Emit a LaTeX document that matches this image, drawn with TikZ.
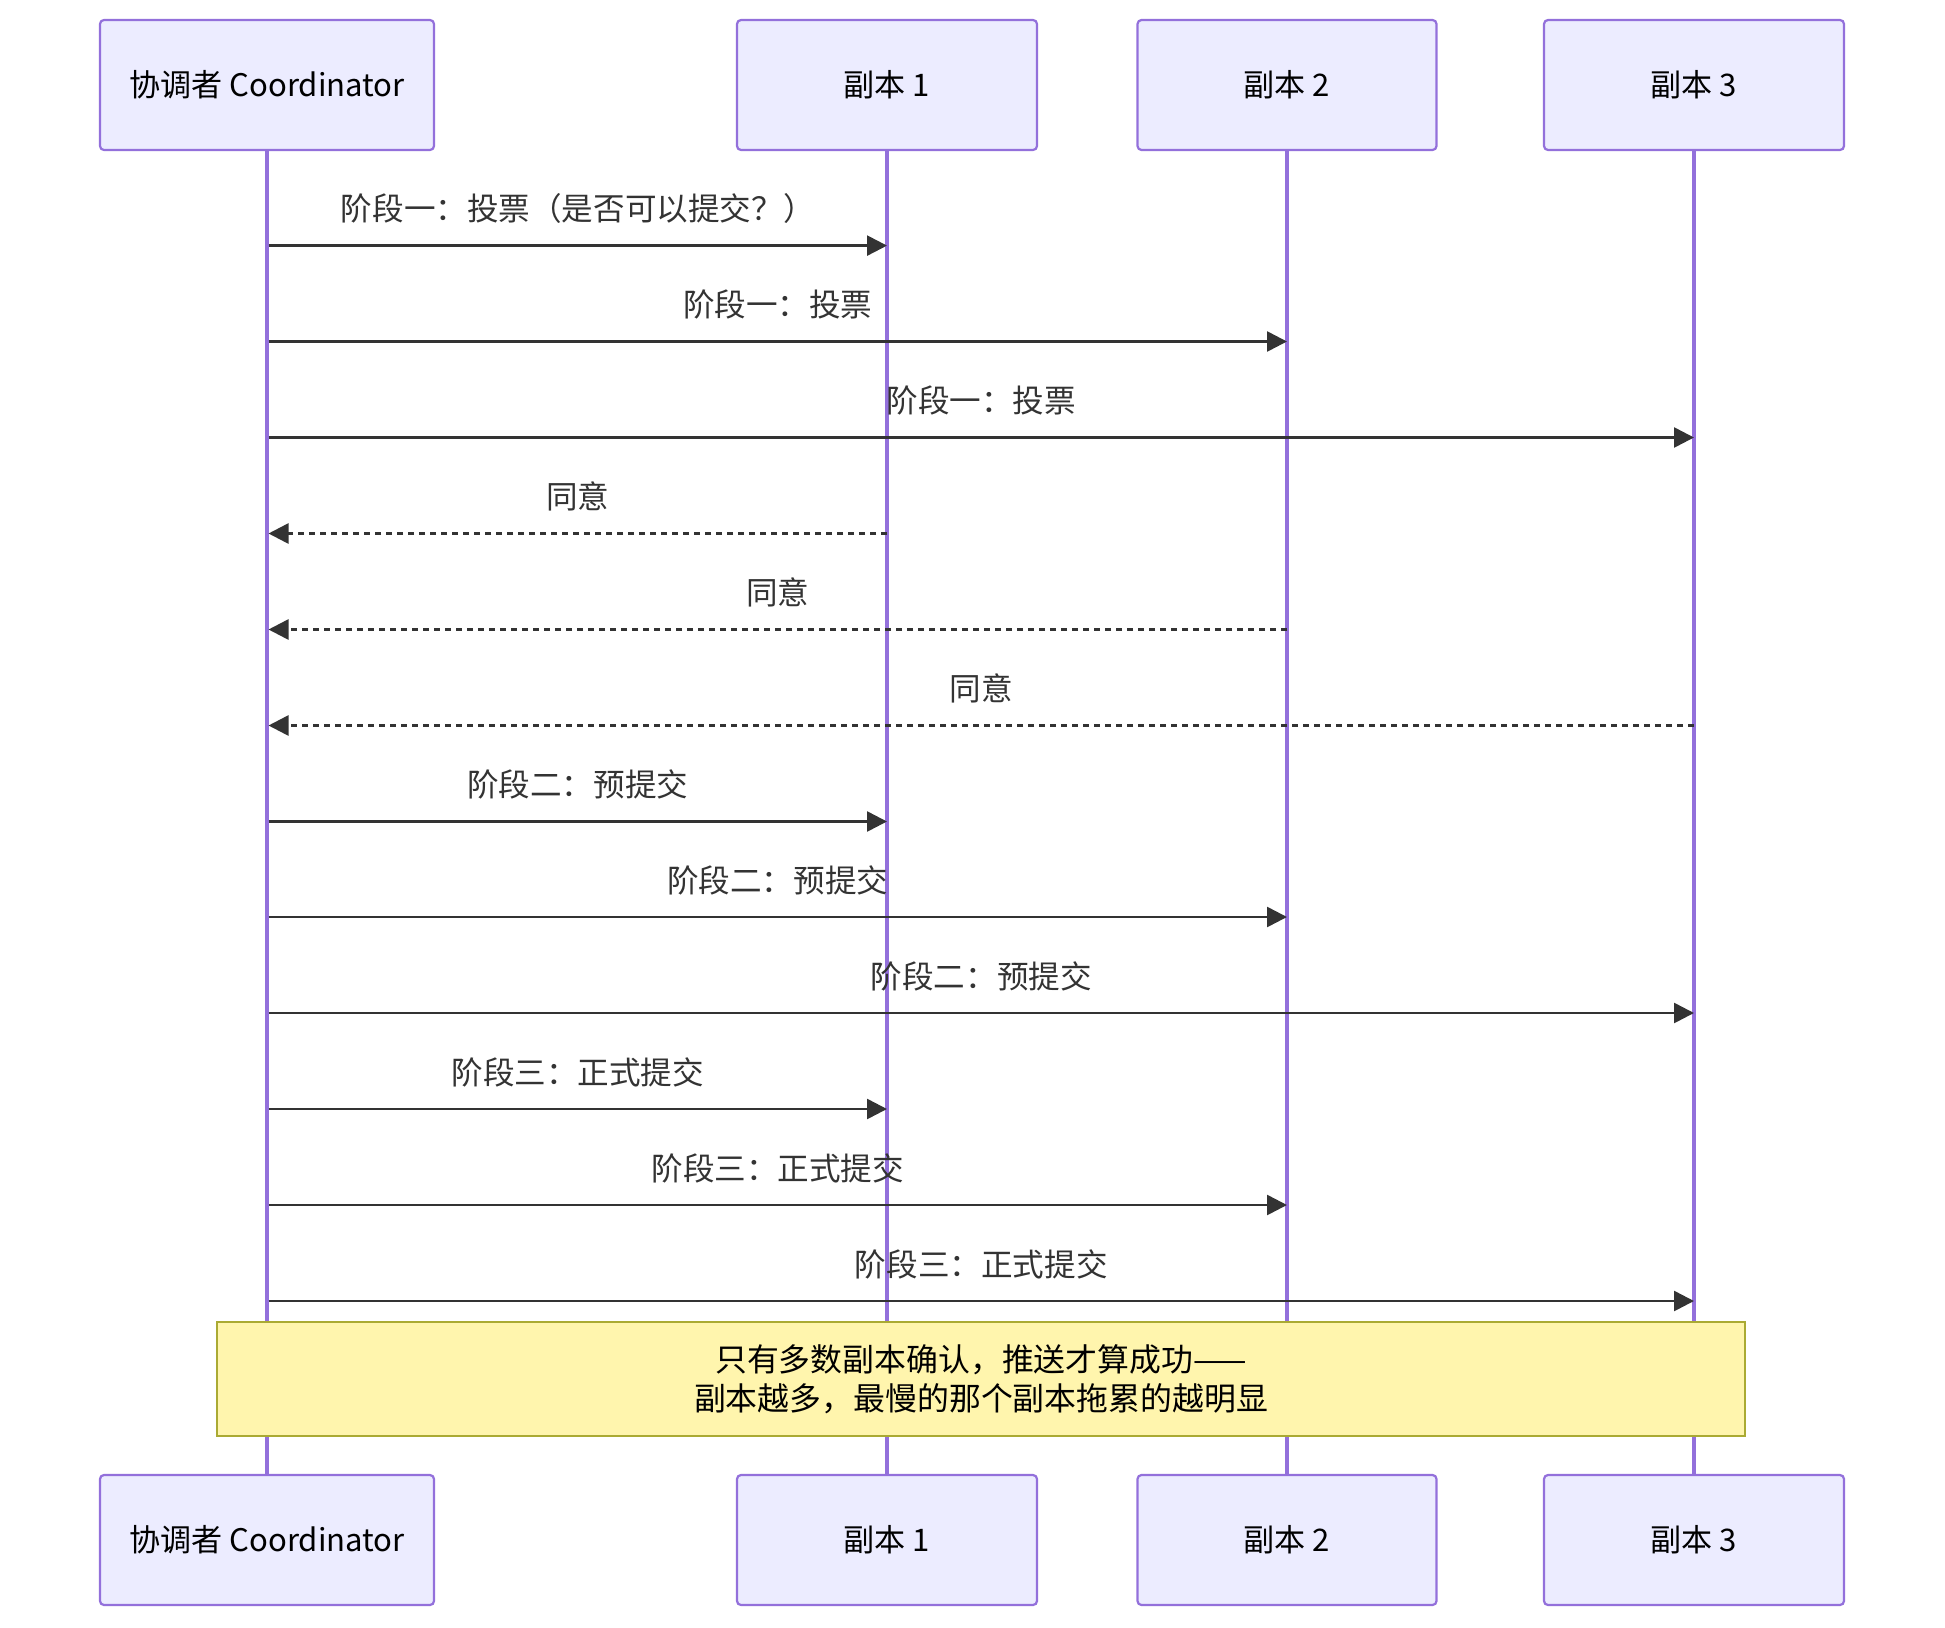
\documentclass[tikz,border=0pt]{standalone}
\usepackage{fontspec}
\setmainfont{Noto Sans CJK SC}
\usetikzlibrary{arrows.meta}
\definecolor{actfill}{HTML}{ECECFF}
\definecolor{actline}{HTML}{9370DB}
\definecolor{msgcol}{HTML}{333333}
\definecolor{notefill}{HTML}{FFF5AD}
\definecolor{noteline}{HTML}{AAAA33}
\tikzset{
  actor/.style={draw=actline, fill=actfill, line width=2.2bp, rounded corners=4bp,
    minimum height=130bp, inner sep=0pt, font=\fontsize{31.2}{37}\selectfont, text=black},
  life/.style={draw=actline, line width=3.2bp},
  msg/.style={draw=msgcol, line width=2.6bp, -{Triangle[length=20bp,width=20bp]}},
  reply/.style={msg, dash pattern=on 6bp off 5bp},
  lbl/.style={font=\fontsize{31.7}{38}\selectfont, text=msgcol, inner sep=0pt},
  notebox/.style={draw=noteline, fill=notefill, line width=2.2bp, inner sep=0pt,
    minimum width=1528bp, minimum height=114bp, align=center,
    font=\fontsize{32}{39.5}\selectfont, text=black}
}
\begin{document}
\begin{tikzpicture}[x=1bp,y=-1bp]
\useasboundingbox (0,0) rectangle (1945,1628);
% top actors
\node[actor, minimum width=334bp] (cT) at (267,85) {协调者 Coordinator};
\node[actor, minimum width=300bp] (aT) at (887,85) {副本 1};
\node[actor, minimum width=299bp] (bT) at (1287,85) {副本 2};
\node[actor, minimum width=300bp] (dT) at (1694,85) {副本 3};
% bottom actors
\node[actor, minimum width=334bp] (cB) at (267,1540) {协调者 Coordinator};
\node[actor, minimum width=300bp] (aB) at (887,1540) {副本 1};
\node[actor, minimum width=299bp] (bB) at (1287,1540) {副本 2};
\node[actor, minimum width=300bp] (dB) at (1694,1540) {副本 3};
% lifelines
\draw[life] (cT.south) -- (cB.north);
\draw[life] (aT.south) -- (aB.north);
\draw[life] (bT.south) -- (bB.north);
\draw[life] (dT.south) -- (dB.north);
% message endpoints
\foreach \i/\y in {1/245.6,2/341.5,3/437.5,4/533.5,5/629.5,6/725.5,7/821.5,8/917,9/1013,10/1109,11/1205,12/1301}{
  \coordinate (c\i) at (267,\y);
  \coordinate (a\i) at (887,\y);
  \coordinate (b\i) at (1287,\y);
  \coordinate (d\i) at (1694,\y);
}
\draw[msg] ([xshift=1.5bp]c1) -- (a1) node[lbl, midway, above=21bp] (l1) {阶段一：投票（是否可以提交？）};
\draw[msg] ([xshift=1.5bp]c2) -- (b2) node[lbl, midway, above=21bp] (l2) {阶段一：投票};
\draw[msg] ([xshift=1.5bp]c3) -- (d3) node[lbl, midway, above=21bp] (l3) {阶段一：投票};
\draw[reply] (a4) -- ([xshift=1.5bp]c4) node[lbl, midway, above=21bp] (l4) {同意};
\draw[reply] (b5) -- ([xshift=1.5bp]c5) node[lbl, midway, above=21bp] (l5) {同意};
\draw[reply] (d6) -- ([xshift=1.5bp]c6) node[lbl, midway, above=21bp] (l6) {同意};
\draw[msg] ([xshift=1.5bp]c7) -- (a7) node[lbl, midway, above=21bp] (l7) {阶段二：预提交};
\draw[msg] ([xshift=1.5bp]c8) -- (b8) node[lbl, midway, above=21bp] (l8) {阶段二：预提交};
\draw[msg] ([xshift=1.5bp]c9) -- (d9) node[lbl, midway, above=21bp] (l9) {阶段二：预提交};
\draw[msg] ([xshift=1.5bp]c10) -- (a10) node[lbl, midway, above=21bp] (l10) {阶段三：正式提交};
\draw[msg] ([xshift=1.5bp]c11) -- (b11) node[lbl, midway, above=21bp] (l11) {阶段三：正式提交};
\draw[msg] ([xshift=1.5bp]c12) -- (d12) node[lbl, midway, above=21bp] (l12) {阶段三：正式提交};
% note
\node[notebox] (note) at (981,1379) {只有多数副本确认，推送才算成功——\\副本越多，最慢的那个副本拖累的越明显};
\end{tikzpicture}
\end{document}
